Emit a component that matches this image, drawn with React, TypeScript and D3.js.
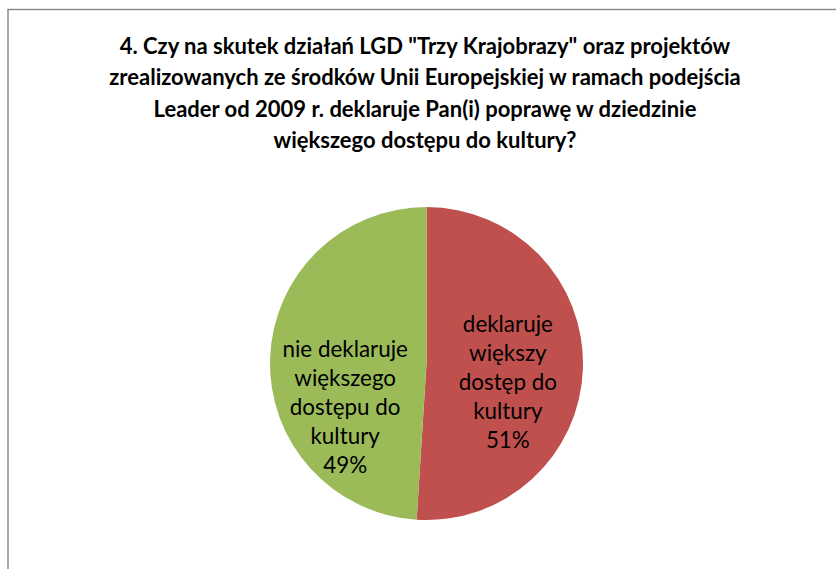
import React from "react";
import * as d3 from "d3";

const titleLines = [
  "4. Czy na skutek działań LGD \"Trzy Krajobrazy\" oraz projektów",
  "zrealizowanych ze środków Unii Europejskiej w ramach podejścia",
  "Leader od 2009 r. deklaruje Pan(i) poprawę w dziedzinie",
  "większego dostępu do kultury?",
];
const categories = ["deklaruje większy dostęp do kultury", "nie deklaruje większego dostępu do kultury"];
const values = [51, 49];
const labelLines = [
  ["deklaruje", "większy", "dostęp do", "kultury", "51%"],
  ["nie deklaruje", "większego", "dostępu do", "kultury", "49%"],
];
const colors = ["#C0504D", "#9BBB59"];

const W = 836;
const H = 569;
const cx = 426.5;
const cy = 363.5;
const R = 156.5;
const labelDy = [16, 46];
const labelDx = [0, 0];

export default function App() {
  const pie = d3.pie<number>().sort(null).value((d) => d)(values);
  const arc = d3.arc<d3.PieArcDatum<number>>().innerRadius(0).outerRadius(R);
  const labelArc = d3.arc<d3.PieArcDatum<number>>().innerRadius(R * 0.52).outerRadius(R * 0.52);
  const color = d3.scaleOrdinal<string, string>().domain(categories).range(colors);
  const lh = 29;
  return (
    <svg
      width={W}
      height={H}
      style={{ position: "absolute", left: 0, top: 0, display: "block", background: "#fff" }}
      fontFamily="Lato, 'Open Sans', sans-serif"
    >
      <rect x={8} y={9.5} width={W + 50} height={H + 50} fill="#fff" stroke="#868686" strokeWidth={1.4} />
      {titleLines.map((t, i) => (
        <text key={i} x={425} y={54 + i * 31.3} textAnchor="middle" fontWeight="bold" fontSize={22} fill="#000">
          {t}
        </text>
      ))}
      <g transform={`translate(${cx},${cy})`}>
        {pie.map((p, i) => (
          <path key={i} d={arc(p) || ""} fill={color(categories[i])} />
        ))}
        {pie.map((p, i) => {
          const [lx0, ly0] = labelArc.centroid(p);
          const lx = lx0 + labelDx[i];
          const ly = ly0 + labelDy[i];
          const lines = labelLines[i];
          const y0 = ly - ((lines.length - 1) * lh) / 2;
          return (
            <text key={i} textAnchor="middle" fontSize={22.4} fill="#000">
              {lines.map((l, j) => (
                <tspan key={j} x={lx} y={y0 + j * lh} dy="0.35em">
                  {l}
                </tspan>
              ))}
            </text>
          );
        })}
      </g>
    </svg>
  );
}
